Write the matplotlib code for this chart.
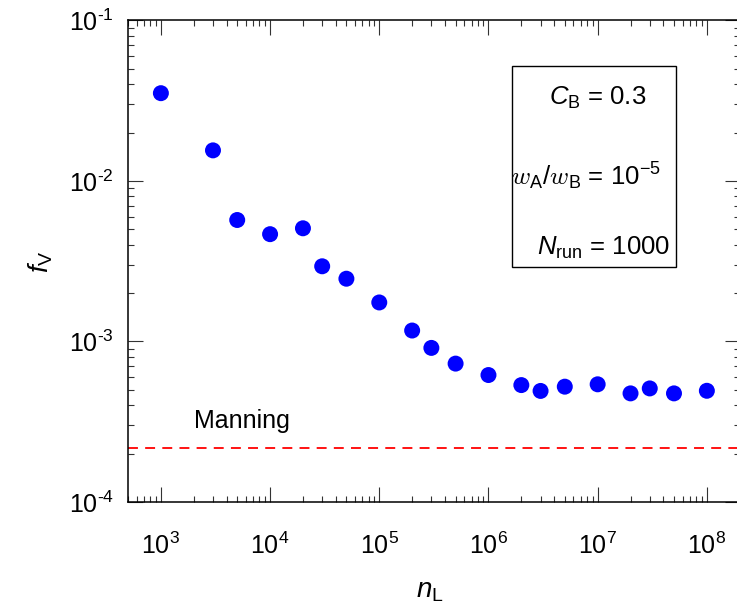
import numpy as np
import matplotlib
matplotlib.use("Agg")
import matplotlib.pyplot as plt
from matplotlib.patches import Rectangle
from matplotlib.ticker import LogLocator, NullFormatter, FuncFormatter

# ---- data ----
n_L = [1e3, 3e3, 5e3, 1e4, 2e4, 3e4, 5e4, 1e5, 2e5, 3e5,
       5e5, 1e6, 2e6, 3e6, 5e6, 1e7, 2e7, 3e7, 5e7, 1e8]
f_V = [3.52e-2, 1.55e-2, 5.71e-3, 4.66e-3, 5.07e-3, 2.94e-3, 2.46e-3, 1.75e-3, 1.17e-3, 9.12e-4,
       7.28e-4, 6.18e-4, 5.35e-4, 4.92e-4, 5.23e-4, 5.41e-4, 4.75e-4, 5.10e-4, 4.75e-4, 4.93e-4]
manning_fV = 2.16e-4

# ---- style ----
plt.rcParams.update({
    "font.family": ["Liberation Sans", "DejaVu Sans"],
    "mathtext.fontset": "custom",
    "mathtext.rm": "Liberation Sans",
    "mathtext.it": "Liberation Sans:italic",
    "mathtext.bf": "Liberation Sans:bold",
    "mathtext.cal": "cmmi10",
    "xtick.direction": "in",
    "ytick.direction": "in",
    "xtick.top": True,
    "ytick.right": True,
    "xtick.major.size": 11,
    "ytick.major.size": 11,
    "xtick.minor.size": 4,
    "ytick.minor.size": 4,
    "xtick.major.width": 0.8,
    "ytick.major.width": 0.8,
    "xtick.minor.width": 0.8,
    "ytick.minor.width": 0.8,
    "xtick.color": "#333333",
    "ytick.color": "#333333",
    "xtick.labelcolor": "black",
    "ytick.labelcolor": "black",
    "axes.linewidth": 1.1,
})


def pow10(v, pos):
    e = int(round(np.log10(v)))
    # plain hyphen for negative exponents, as in the original
    return "10$^{%s}$" % (str(e).replace("-", "\u2010"))


fig = plt.figure(figsize=(7.37, 6.12), dpi=100)
ax = fig.add_axes([0.1737, 0.1797, 0.83, 0.787])

ax.scatter(n_L, f_V, s=11.5 ** 2, color="#0000ff", edgecolors="none", zorder=3)
ax.axhline(manning_fV, color="red", lw=1.3, ls=(0, (5.5, 4.0)))

ax.set_xscale("log")
ax.set_yscale("log")
ax.set_xlim(500, 2e8)
ax.set_ylim(1e-4, 1e-1)

for axis in (ax.xaxis, ax.yaxis):
    axis.set_major_locator(LogLocator(base=10, numticks=20))
    axis.set_major_formatter(FuncFormatter(pow10))
    axis.set_minor_locator(LogLocator(base=10, subs=np.arange(2, 10), numticks=20))
    axis.set_minor_formatter(NullFormatter())

ax.tick_params(axis="both", which="major", labelsize=18)
ax.tick_params(axis="x", which="major", pad=22)
ax.tick_params(axis="y", which="major", pad=10)

ax.set_xlabel(r"$n_{\mathrm{L}}$", fontsize=20)
ax.set_ylabel(r"$f_{\mathrm{V}}$", fontsize=20)
ax.xaxis.set_label_coords(0.494, -0.158)
ax.yaxis.set_label_coords(-0.12, 0.5)

# annotation box
ax.add_patch(Rectangle((0.628, 0.488), 0.268, 0.4175, transform=ax.transAxes,
                       fill=False, lw=1.0, edgecolor="black", zorder=4))
ax.text(0.768, 0.8245, r"$C_{\mathrm{B}}$ = 0.3", transform=ax.transAxes,
        ha="center", va="baseline", fontsize=18.5)
ax.text(0.748, 0.658, r"$\mathcal{w}_{\mathrm{A}}$/$\mathcal{w}_{\mathrm{B}}$ = 10$^{-5}$",
        transform=ax.transAxes, ha="center", va="baseline", fontsize=18.5)
ax.text(0.777, 0.513, r"$N_{\mathrm{run}}$ = 1000", transform=ax.transAxes,
        ha="center", va="baseline", fontsize=18.5)

ax.text(0.108, 0.154, "Manning", transform=ax.transAxes,
        ha="left", va="baseline", fontsize=18)

fig.savefig("out.png", dpi=100)
